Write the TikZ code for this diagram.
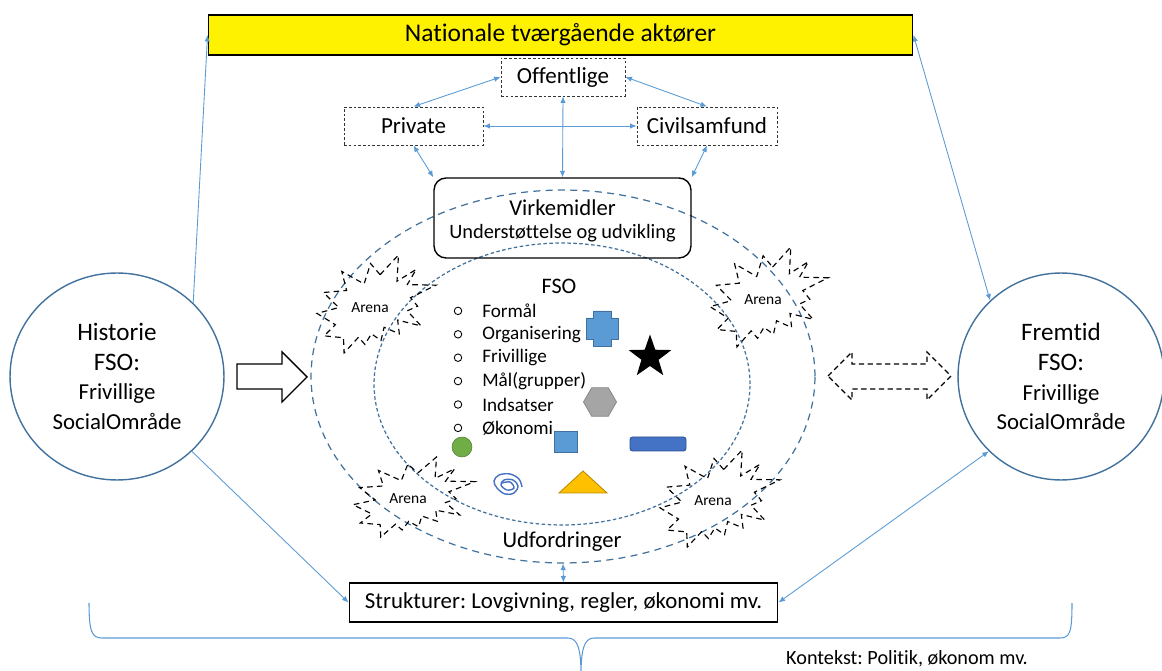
\documentclass[tikz,border=0pt]{standalone}
\usepackage{fontspec}
\setmainfont{Carlito}[Ligatures=NoCommon]
\usetikzlibrary{arrows.meta,shapes.geometric}

\definecolor{linkblue}{HTML}{5B9BD5}
\definecolor{ringblue}{HTML}{41719C}
\definecolor{hexgrey}{HTML}{A5A5A5}
\definecolor{hexedge}{HTML}{8C8C8C}
\definecolor{ballgreen}{HTML}{70AD47}
\definecolor{balledge}{HTML}{507E32}
\definecolor{barblue}{HTML}{4472C4}
\definecolor{baredge}{HTML}{2F528F}
\definecolor{triyellow}{HTML}{FFC000}
\definecolor{triedge}{HTML}{BC8C00}

\tikzset{
  tip/.tip={Latex[length=1.3mm,width=1.1mm]},
  link/.style={draw=linkblue, line width=0.5pt, tip-tip},
  linkto/.style={draw=linkblue, line width=0.5pt, -tip},
  actor/.style={draw=black!80, dash pattern=on 1.5pt off 1.2pt, line width=0.5pt, minimum height=0.76cm, font=\fontsize{13.1}{15}\selectfont},
  era/.style={ellipse, draw=ringblue, line width=0.8pt, align=center, inner sep=0pt, font=\fontsize{14.3}{17}\selectfont},
  ring/.style={ellipse, draw=ringblue, line width=0.7pt},
  arenaline/.style={draw=black, line width=0.65pt, dash pattern=on 3.2pt off 2.4pt, line join=miter},
  arenatext/.style={inner sep=0pt, font=\fontsize{8.8}{10}\selectfont},
  item/.style={anchor=west, inner sep=0pt, font=\fontsize{10.9}{12}\selectfont},
}
% explosion outline, fitted into the box at (x,y) of size (w,h)
\def\arenaburst(#1,#2)(#3,#4){\draw[arenaline, shift={(#1,#2)}, xscale=#3, yscale=#4] (0.5306,0.2010) -- (0.6847,0) -- (0.6725,0.2675) -- (0.8337,0.1469) -- (0.7583,0.3024) -- (1,0.3076) -- (0.7863,0.4353) -- (0.8458,0.5227) -- (0.7583,0.5699) -- (0.8739,0.7237) -- (0.6778,0.6644) -- (0.6918,0.8042) -- (0.5639,0.7377) -- (0.5376,0.8723) -- (0.4570,0.8042) -- (0.4028,0.9126) -- (0.3485,0.8391) -- (0.2276,1) -- (0.2225,0.8444) -- (0.0595,0.8252) -- (0.1542,0.7116) -- (0,0.5962) -- (0.1822,0.5367) -- (0.0543,0.3829) -- (0.2487,0.3619) -- (0.2084,0.1678) -- (0.3958,0.2955) -- (0.4501,0.0874) -- cycle;}

\begin{document}
\frenchspacing
\begin{tikzpicture}[x=0.02cm, y=-0.02cm]
\useasboundingbox (0,0) rectangle (1162,671);

% actors at the top
\node[draw=black, fill=yellow, line width=0.6pt, minimum width=14.1cm, minimum height=0.8cm, font=\fontsize{14.5}{17}\selectfont] (national) at (560.5,35) {Nationale tværgående aktører};
\node[actor, minimum width=2.48cm] (off) at (563,77) {Offentlige};
\node[actor, minimum width=2.78cm] (priv) at (413.5,126) {Private};
\node[actor, minimum width=2.8cm] (civ) at (707,126) {Civilsamfund};

% rings
\node[ring, dash pattern=on 4pt off 3pt, minimum width=10.08cm, minimum height=7.46cm] (outer) at (563,376.5) {};
\node[ring, dash pattern=on 2pt off 1.4pt, minimum width=7.52cm, minimum height=5.64cm] (inner) at (562,384) {};

\node[draw=black, line width=0.8pt, rounded corners=0.24cm, minimum width=5.14cm, minimum height=1.6cm] (virk) at (562.5,218) {};
\node[font=\fontsize{12.9}{15}\selectfont] (virktitle) at (562.5,208) {Virkemidler};
\node[font=\fontsize{11.6}{14}\selectfont] (virksub) at (562.5,233) {Understøttelse og udvikling};

% arenas
\arenaburst(317,255)(119,98)
\arenaburst(710,247)(118,100)
\arenaburst(353,457)(122,80)
\arenaburst(660,450)(120,97)
\node[arenatext] (arenaNW) at (370,308) {Arena};
\node[arenatext] (arenaNE) at (763,300) {Arena};
\node[arenatext] (arenaSW) at (408,499) {Arena};
\node[arenatext] (arenaSE) at (713,501) {Arena};

% FSO
\node[font=\fontsize{12.6}{15}\selectfont] (fso) at (559,286) {FSO};
\foreach \word [count=\i] in {Formål, Organisering, Frivillige, Mål(grupper), Indsatser, Økonomi}
{
  \node[circle, draw=black, line width=0.5pt, minimum size=0.15cm, inner sep=0pt] (dot\i) at (458,{287.5+23.4*\i}) {};
  \node[item] (item\i) at (482,{287.5+23.4*\i}) {\word};
}

\draw[fill=linkblue, draw=ringblue, line width=0.5pt] (593,311) -- (611,311) -- (611,318) -- (618,318) -- (618,339) -- (611,339) -- (611,346) -- (593,346) -- (593,339) -- (586,339) -- (586,318) -- (593,318) -- cycle;
\node[star, star points=5, star point ratio=2.5, fill=black, minimum size=0.9cm, inner sep=0pt] (star) at (650,357) {};
\node[regular polygon, regular polygon sides=6, fill=hexgrey, draw=hexedge, line width=0.5pt, minimum size=0.66cm, inner sep=0pt] (hex) at (600,402) {};
\node[circle, fill=ballgreen, draw=balledge, line width=0.3pt, minimum size=0.4cm, inner sep=0pt] (ball) at (462,447) {};
\node[fill=linkblue, draw=ringblue, line width=0.5pt, minimum width=0.46cm, minimum height=0.42cm, inner sep=0pt] (square) at (565.5,441.5) {};
\node[fill=barblue, draw=baredge, line width=0.5pt, rounded corners=1.5pt, minimum width=1.12cm, minimum height=0.28cm, inner sep=0pt] (bar) at (658,444) {};
\draw[barblue, line width=0.8pt] plot[smooth, tension=0.6] coordinates {(522,487) (519,479) (510,474) (499,475) (494,481) (497,488) (505,494) (514,493) (518,486) (513,480) (504,480) (501,485) (507,490) (514,488) (510,482) (502,483)};
\draw[fill=triyellow, draw=triedge, line width=0.5pt] (559,493) -- (583,471) -- (607,493) -- cycle;

\node[font=\fontsize{12.9}{15}\selectfont] (udf) at (562,542) {Udfordringer};

% past and future
\node[era, minimum width=4.28cm, minimum height=4.14cm] (hist) at (117,376.5) {Historie\\FSO:\\{\fontsize{13}{16}\selectfont Frivillige}\\{\fontsize{13}{16}\selectfont SocialOmråde}};
\node[era, minimum width=4.12cm, minimum height=4.14cm] (fut) at (1061,376.5) {Fremtid\\FSO:\\{\fontsize{13}{16}\selectfont Frivillige}\\{\fontsize{13}{16}\selectfont SocialOmråde}};

\draw[line width=0.8pt, fill=white] (237,364) -- (282,364) -- (282,352) -- (307,377) -- (282,402) -- (282,389) -- (237,389) -- cycle;
\draw[line width=0.7pt, dash pattern=on 3pt off 2pt] (828,376) -- (852,352) -- (852,364) -- (927,364) -- (927,352) -- (951,376) -- (927,400) -- (927,389) -- (852,389) -- (852,400) -- cycle;

\node[draw=black, line width=0.6pt, minimum width=8.58cm, minimum height=0.78cm, font=\fontsize{13}{15}\selectfont] (struct) at (563.5,602.5) {Strukturer: Lovgivning, regler, økonomi mv.};

% connectors
\draw[linkto] (hist.44) -- (national.west);
\draw[link] (national.east) -- (fut.133);
\draw[linkto] (hist.-45) -- (struct.west);
\draw[link] (fut.-134) -- (struct.east);
\draw[link] (off.west) -- (priv.north);
\draw[link] (off.east) -- (civ.north);
\draw[link] (priv.east) -- (civ.west);
\draw[link] (off.south) -- (virk.north);
\draw[link] (priv.south) -- (virk.north west);
\draw[link] (civ.south) -- (virk.north east);
\draw[link] (outer.south) -- (struct.north);

% context brace
\draw[linkblue, line width=0.6pt] (89,603) .. controls (89,632) and (92,638) .. (102,638) -- (568,638) .. controls (578,638) and (581,650) .. (581,675) .. controls (581,650) and (584,638) .. (594,638) -- (1060,638) .. controls (1070,638) and (1072,632) .. (1072,603);
\node[font=\fontsize{11.5}{14}\selectfont] (context) at (907,659) {Kontekst: Politik, økonom mv.};
\end{tikzpicture}
\end{document}
